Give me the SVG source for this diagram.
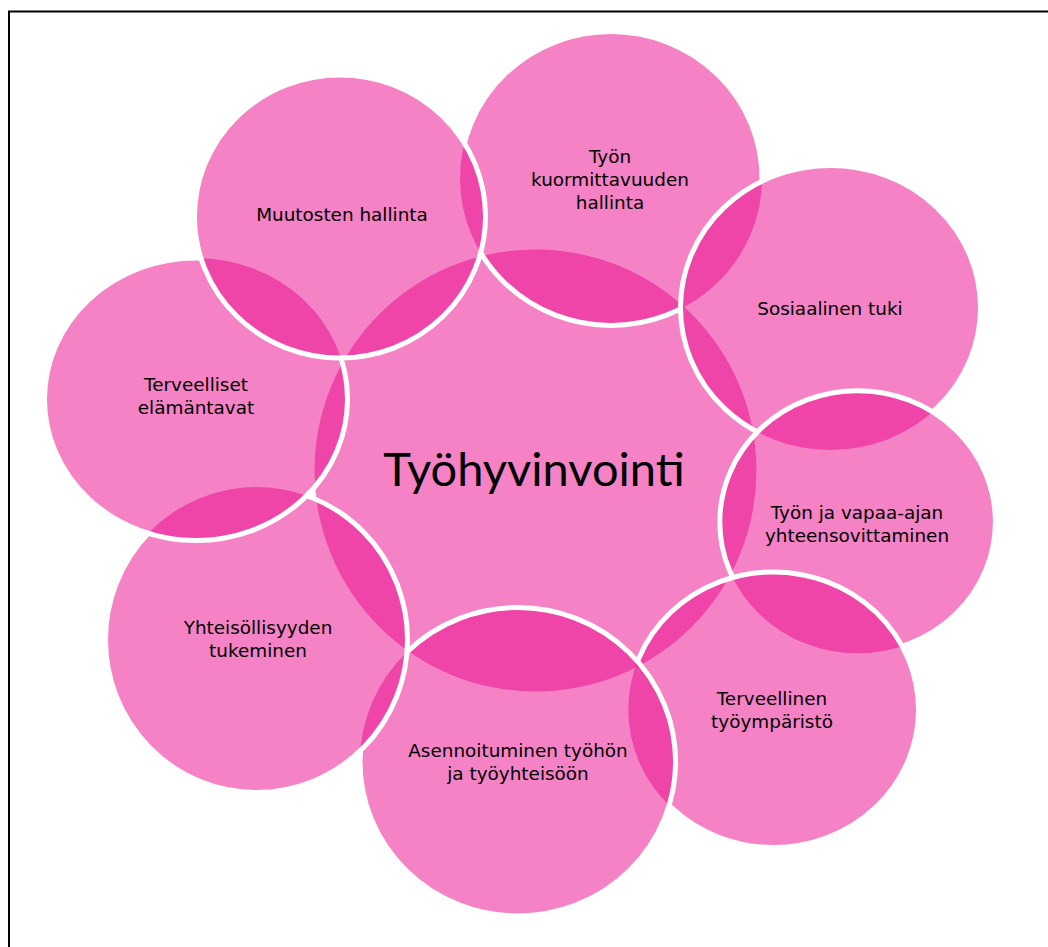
<svg xmlns="http://www.w3.org/2000/svg" xmlns:xlink="http://www.w3.org/1999/xlink" width="1048" height="947" viewBox="0 0 1048 947">
<style>
.fill{fill:#E9058B;fill-opacity:0.5;stroke:none}
.ring{fill:none;stroke:#FFFFFF;stroke-width:5}
.lbl{font-family:"DejaVu Sans",Verdana,sans-serif;font-size:18.4px;fill:#000;text-anchor:middle}
.big{font-family:Lato,"Liberation Sans",sans-serif;font-size:47px;fill:#000;text-anchor:middle}
</style>
<defs>
<ellipse id="e1" cx="611" cy="178.5" rx="151" ry="147"/>
<ellipse id="e2" cx="830.5" cy="307.75" rx="150" ry="142.25"/>
<ellipse id="e3" cx="857.6" cy="522" rx="137.8" ry="131.3"/>
<ellipse id="e4" cx="773.4" cy="709.7" rx="145.1" ry="137.8"/>
<ellipse id="e5" cx="517.8" cy="761.7" rx="157.8" ry="154.2"/>
<ellipse id="e6" cx="256.5" cy="639.75" rx="151" ry="152.75"/>
<ellipse id="e7" cx="196" cy="399.25" rx="151.5" ry="141.25"/>
<ellipse id="e8" cx="340" cy="216.5" rx="145.5" ry="141.5"/>
<mask id="m1" maskUnits="userSpaceOnUse" x="0" y="0" width="1048" height="947"><rect width="1048" height="947" fill="#fff"/><use xlink:href="#e2" fill="#000"/><use xlink:href="#e8" fill="#000"/></mask>
<mask id="m2" maskUnits="userSpaceOnUse" x="0" y="0" width="1048" height="947"><rect width="1048" height="947" fill="#fff"/><use xlink:href="#e3" fill="#000"/></mask>
<mask id="m3" maskUnits="userSpaceOnUse" x="0" y="0" width="1048" height="947"><rect width="1048" height="947" fill="#fff"/><use xlink:href="#e4" fill="#000"/></mask>
<mask id="m4" maskUnits="userSpaceOnUse" x="0" y="0" width="1048" height="947"><rect width="1048" height="947" fill="#fff"/><use xlink:href="#e5" fill="#000"/></mask>
<mask id="m5" maskUnits="userSpaceOnUse" x="0" y="0" width="1048" height="947"><rect width="1048" height="947" fill="#fff"/><use xlink:href="#e6" fill="#000"/></mask>
<mask id="m6" maskUnits="userSpaceOnUse" x="0" y="0" width="1048" height="947"><rect width="1048" height="947" fill="#fff"/><use xlink:href="#e7" fill="#000"/></mask>
<mask id="m7" maskUnits="userSpaceOnUse" x="0" y="0" width="1048" height="947"><rect width="1048" height="947" fill="#fff"/><use xlink:href="#e8" fill="#000"/></mask>
</defs>
<rect x="0" y="0" width="1048" height="947" fill="#FFFFFF"/>
<rect x="9" y="11.5" width="1100" height="1000" fill="none" stroke="#000" stroke-width="2"/>
<g id="connectors"></g>
<g id="center">
<circle class="fill" cx="535.5" cy="470.5" r="221"/>
<text class="big" x="534" y="486">Työhyvinvointi</text>
</g>
<g id="node-kuormittavuus">
<use class="fill" xlink:href="#e1"/>
<use class="ring" xlink:href="#e1" mask="url(#m1)"/>
<text class="lbl" x="610" y="163">Työn</text>
<text class="lbl" x="610" y="186">kuormittavuuden</text>
<text class="lbl" x="610" y="209">hallinta</text>
</g>
<g id="node-sosiaalinen">
<use class="fill" xlink:href="#e2"/>
<use class="ring" xlink:href="#e2" mask="url(#m2)"/>
<text class="lbl" x="830" y="315">Sosiaalinen tuki</text>
</g>
<g id="node-vapaa-aika">
<use class="fill" xlink:href="#e3"/>
<use class="ring" xlink:href="#e3" mask="url(#m3)"/>
<text class="lbl" x="857" y="519">Työn ja vapaa-ajan</text>
<text class="lbl" x="857" y="542">yhteensovittaminen</text>
</g>
<g id="node-tyoymparisto">
<use class="fill" xlink:href="#e4"/>
<use class="ring" xlink:href="#e4" mask="url(#m4)"/>
<text class="lbl" x="772" y="705">Terveellinen</text>
<text class="lbl" x="772" y="728">työympäristö</text>
</g>
<g id="node-asennoituminen">
<use class="fill" xlink:href="#e5"/>
<use class="ring" xlink:href="#e5" mask="url(#m5)"/>
<text class="lbl" x="518" y="757">Asennoituminen työhön</text>
<text class="lbl" x="518" y="780">ja työyhteisöön</text>
</g>
<g id="node-yhteisollisyys">
<use class="fill" xlink:href="#e6"/>
<use class="ring" xlink:href="#e6" mask="url(#m6)"/>
<text class="lbl" x="258" y="634">Yhteisöllisyyden</text>
<text class="lbl" x="258" y="657">tukeminen</text>
</g>
<g id="node-elamantavat">
<use class="fill" xlink:href="#e7"/>
<use class="ring" xlink:href="#e7" mask="url(#m7)"/>
<text class="lbl" x="196" y="391">Terveelliset</text>
<text class="lbl" x="196" y="414">elämäntavat</text>
</g>
<g id="node-muutokset">
<use class="fill" xlink:href="#e8"/>
<use class="ring" xlink:href="#e8"/>
<text class="lbl" x="342" y="221">Muutosten hallinta</text>
</g>
</svg>
